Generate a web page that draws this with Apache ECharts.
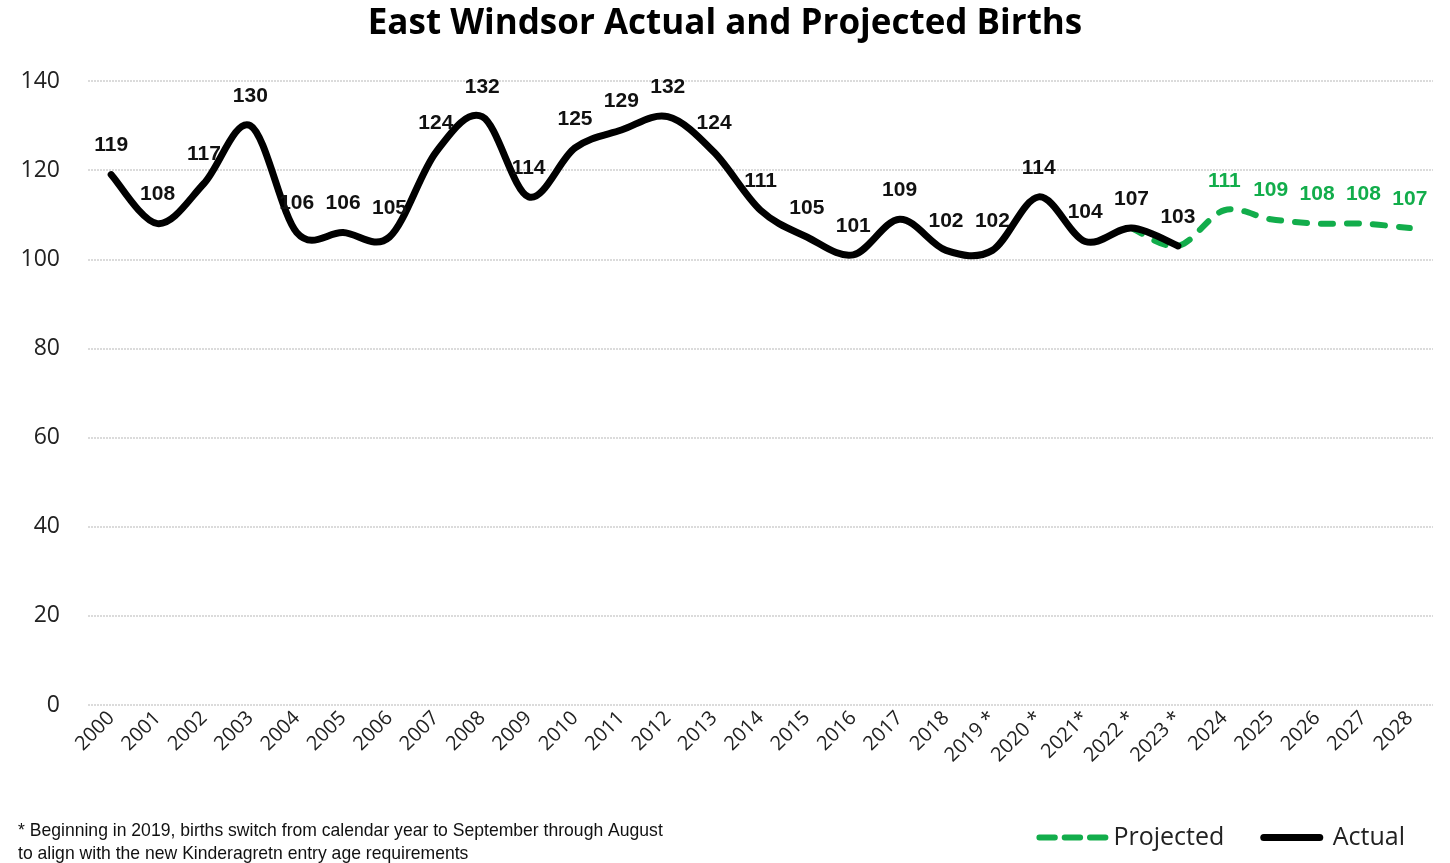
<!DOCTYPE html>
<html><head><meta charset="utf-8">
<script src="https://cdn.jsdelivr.net/npm/echarts@6/dist/echarts.min.js"></script>
<style>html,body{margin:0;padding:0;background:#fff}#c{width:1450px;height:863px}</style>
</head><body><div id="c"></div>
<script>
const years = ['2000','2001','2002','2003','2004','2005','2006','2007','2008','2009','2010','2011','2012','2013','2014','2015','2016','2017','2018','2019 *','2020 *','2021*','2022 *','2023 *','2024','2025','2026','2027','2028'];
const actual = [119,108,117,130,106,106,105,124,132,114,125,129,132,124,111,105,101,109,102,102,114,104,107,103,null,null,null,null,null];
const projected = [null,null,null,null,null,null,null,null,null,null,null,null,null,null,null,null,null,null,null,null,null,null,107,103,111,109,108,108,107];

const chart = echarts.init(document.getElementById('c'));
const labelFont = '"Liberation Sans",Arial,sans-serif';

// Excel-like smoothed curve (Catmull-Rom -> cubic Bezier) through library coordinates
function curveItem(values, style){
  return function(params, api){
    if (params.dataIndex !== 0) return null;
    const pts = [];
    values.forEach((v,i)=>{ if(v!=null) pts.push(api.coord([i, v])); });
    let d = 'M' + pts[0][0] + ' ' + pts[0][1];
    for (let i=0;i<pts.length-1;i++){
      const p0 = pts[Math.max(i-1,0)], p1 = pts[i], p2 = pts[i+1], p3 = pts[Math.min(i+2,pts.length-1)];
      const c1x = p1[0] + (p2[0]-p0[0])/6, c1y = p1[1] + (p2[1]-p0[1])/6;
      const c2x = p2[0] - (p3[0]-p1[0])/6, c2y = p2[1] - (p3[1]-p1[1])/6;
      d += ' C' + c1x + ' ' + c1y + ' ' + c2x + ' ' + c2y + ' ' + p2[0] + ' ' + p2[1];
    }
    return {type:'path', shape:{pathData:d}, style:Object.assign({fill:null}, style), silent:true};
  };
}

chart.setOption({
  animation:false,
  title:{text:'East Windsor Actual and Projected Births',left:'center',top:2,
    textStyle:{fontFamily:'"Open Sans",sans-serif',fontWeight:'bold',fontSize:35,color:'#000'}},
  legend:{right:40,bottom:8,itemWidth:72,itemHeight:7,itemGap:36,
    textStyle:{fontFamily:'"Open Sans",sans-serif',fontSize:25,color:'#222'},
    data:[{name:'Projected',icon:'path://M3,0H19A3,3 0 0 1 19,6H3A3,3 0 0 1 3,0Z M29,0H45A3,3 0 0 1 45,6H29A3,3 0 0 1 29,0Z M55,0H71A3,3 0 0 1 71,6H55A3,3 0 0 1 55,0Z',itemStyle:{color:'#12ad4b',opacity:1}},
          {name:'Actual',icon:'path://M4,0H68A4,4 0 0 1 68,8H4A4,4 0 0 1 4,0Z',itemStyle:{color:'#000',opacity:1}}]},
  graphic:[{type:'text',x:18,y:819,scaleX:0.925,style:{text:'* Beginning in 2019, births switch from calendar year to September through August\nto align with the new Kinderagretn entry age requirements',
    font:'19px "Liberation Sans",Arial,sans-serif',fill:'#111',lineHeight:23}}],
  grid:{left:88,right:17,top:81,bottom:158,containLabel:false},
  xAxis:{type:'category',data:years,boundaryGap:true,
    axisLine:{show:false},axisTick:{show:false},
    axisLabel:{rotate:45,fontFamily:'"Open Sans",sans-serif',fontSize:20,color:'#222',margin:10,interval:0}},
  yAxis:{type:'value',min:0,max:140,interval:20,
    axisLine:{show:false},axisTick:{show:false},
    axisLabel:{fontFamily:'"Open Sans",sans-serif',fontSize:23,color:'#222',margin:28},
    splitLine:{lineStyle:{color:'#d0d0d0',width:1.5,type:[2,1]}}},
  series:[
    {name:'ProjectedCurve',type:'custom',data:[[0,0]],z:2,renderItem:curveItem(projected,{stroke:'#12ad4b',lineWidth:6,lineDash:[12,14],lineCap:'round',lineJoin:'round'})},
    {name:'ActualCurve',type:'custom',data:[[0,0]],z:3,renderItem:curveItem(actual,{stroke:'#000',lineWidth:7,lineCap:'round',lineJoin:'round'})},
    {name:'Projected',type:'line',data:projected,symbol:'circle',symbolSize:1,showSymbol:true,z:4,
      lineStyle:{width:0,color:'rgba(0,0,0,0)'},itemStyle:{color:'rgba(0,0,0,0)'},emphasis:{disabled:true},
      label:{show:true,position:'top',distance:18,fontFamily:labelFont,fontWeight:'bold',fontSize:21,color:'#12ad4b',
        formatter:p=>p.dataIndex>=24?String(p.value):''}},
    {name:'Actual',type:'line',data:actual,symbol:'circle',symbolSize:1,showSymbol:true,z:5,
      lineStyle:{width:0,color:'rgba(0,0,0,0)'},itemStyle:{color:'rgba(0,0,0,0)'},emphasis:{disabled:true},
      label:{show:true,position:'top',distance:18,fontFamily:labelFont,fontWeight:'bold',fontSize:21,color:'#111'}}
  ]
});
</script></body></html>
